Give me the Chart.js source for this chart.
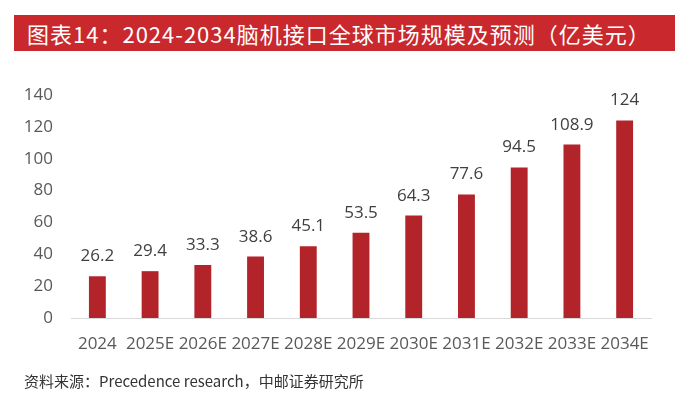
<!DOCTYPE html>
<html>
<head>
<meta charset="utf-8">
<script src="https://cdn.jsdelivr.net/npm/chart.js@4.4.1/dist/chart.umd.min.js"></script>
<style>
  html, body { margin: 0; padding: 0; background: #fff; }
  #wrap { position: relative; width: 692px; height: 396px; overflow: hidden; }
  #title {
    position: absolute; left: 14px; top: 15px; width: 661px; height: 36px;
    background: #c9282d; color: #fff;
    font-family: "Noto Sans CJK SC", sans-serif; font-size: 22px; font-weight: 400;
    letter-spacing: 1px;
    line-height: 36px; padding-left: 13px; box-sizing: border-box; white-space: nowrap;
  }
  #source {
    position: absolute; left: 24px; top: 370px;
    font-family: "Noto Sans CJK SC", sans-serif; font-size: 15px; color: #333;
    white-space: nowrap;
  }
  #chartBox { position: absolute; left: 0; top: 0; width: 692px; height: 396px; }
</style>
</head>
<body>
<div id="wrap">
  <div id="chartBox"><canvas id="marketChart"></canvas></div>
  <div id="title">图表14：2024-2034脑机接口全球市场规模及预测（亿美元）</div>
  <div id="source">资料来源：Precedence research，中邮证券研究所</div>
</div>
<script>
// categories and values
const years = ['2024', '2025E', '2026E', '2027E', '2028E', '2029E', '2030E', '2031E', '2032E', '2033E', '2034E'];
const marketSize = [26.2, 29.4, 33.3, 38.6, 45.1, 53.5, 64.3, 77.6, 94.5, 108.9, 124];
const yTicks = [0, 20, 40, 60, 80, 100, 120, 140];

const barColor = '#b3232a';
const textColor = '#595959';
const tickFont = { family: '"Open Sans", "Noto Sans", sans-serif', size: 17 };

// draws the value above each bar
const valueLabels = {
    id: 'valueLabels',
    afterDatasetsDraw(chart) {
        const ctx = chart.ctx;
        const meta = chart.getDatasetMeta(0);
        ctx.save();
        ctx.font = '17px "Open Sans", "Noto Sans", sans-serif';
        ctx.fillStyle = '#404040';
        ctx.textAlign = 'center';
        ctx.textBaseline = 'alphabetic';
        meta.data.forEach((bar, i) => {
            ctx.fillText(String(marketSize[i]), bar.x, bar.y - 15);
        });
        ctx.restore();
    }
};

const ctx = document.getElementById('marketChart').getContext('2d');
new Chart(ctx, {
    type: 'bar',
    data: {
        labels: years,
        datasets: [{
            data: marketSize,
            backgroundColor: barColor,
            categoryPercentage: 1,
            barPercentage: 0.32
        }]
    },
    options: {
        responsive: true,
        maintainAspectRatio: false,
        animation: false,
        layout: { padding: { top: 95, right: 41, bottom: 0, left: 0 } },
        plugins: {
            legend: { display: false },
            tooltip: { enabled: false }
        },
        scales: {
            x: {
                grid: { display: false },
                border: { display: true, color: '#d9d9d9', width: 1 },
                ticks: { color: textColor, font: tickFont, padding: 8, maxRotation: 0, autoSkip: false },
                afterFit(scale) { scale.height = 78; }
            },
            y: {
                min: 0,
                max: 140,
                grid: { display: false, drawTicks: false },
                border: { display: false },
                afterBuildTicks(scale) { scale.ticks = yTicks.map(v => ({ value: v })); },
                ticks: { color: textColor, font: tickFont, padding: 18 },
                afterFit(scale) { scale.width = 71; }
            }
        }
    },
    plugins: [valueLabels]
});
</script>
</body>
</html>
